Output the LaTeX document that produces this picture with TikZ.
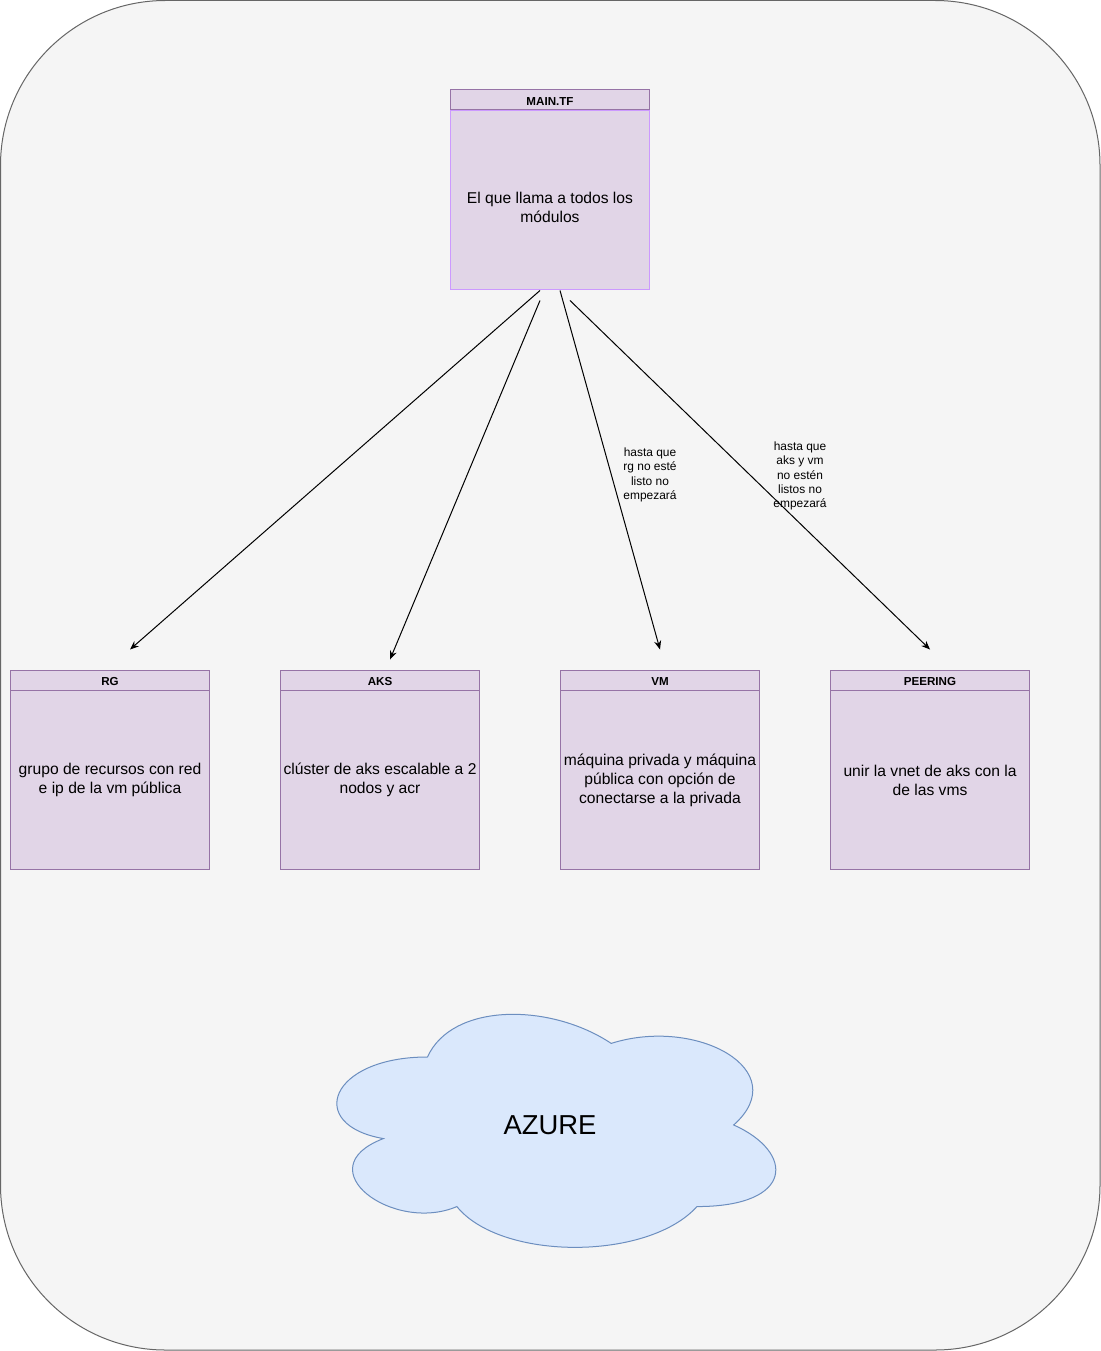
\documentclass[tikz,border=0pt]{standalone}
\usepackage{fontspec}
\setmainfont{Liberation Sans}
\usetikzlibrary{arrows.meta}

\definecolor{bgfill}{HTML}{F5F5F5}
\definecolor{bgline}{HTML}{666666}
\definecolor{modfill}{HTML}{E1D5E7}
\definecolor{modline}{HTML}{9673A6}
\definecolor{mainline}{HTML}{CC99FF}
\definecolor{cloudfill}{HTML}{DAE8FC}
\definecolor{cloudline}{HTML}{6C8EBF}

\begin{document}
\begin{tikzpicture}[x=0.02cm, y=-0.02cm, line width=0.57pt,
        head/.style={draw=modline, fill=modfill, minimum width=4cm, minimum height=0.4cm,
            inner sep=0pt, text height=6.6pt, text depth=0pt, font=\fontsize{6.6}{7.9}\selectfont\bfseries},
        body/.style={draw=modline, fill=modfill, minimum width=4cm, minimum height=3.6cm,
            inner sep=0pt, align=center, font=\fontsize{8.9}{10.8}\selectfont},
        note/.style={inner sep=0pt, align=center, font=\fontsize{6.8}{8.2}\selectfont},
        link/.style={-{Stealth[length=5pt,width=4pt]}}]
        \useasboundingbox (0,0) rectangle (1101,1351);

        % Draw the background
        \draw[bgline, fill=bgfill, rounded corners=3.3cm] (0.5,0.5) rectangle (1100,1350);

        % Main module
        \node[body, draw=mainline,
            label={[align=center, font=\fontsize{8.9}{10.8}\selectfont, yshift=-0.15cm]center:{El que llama a todos los\\m\'odulos}}]
            (main) at (550,200) {};
        \node[head] (main-head) at (550,100) {MAIN.TF};

        % Child modules
        \node[body] (rg) at (110,780) {grupo de recursos con red\\e ip de la vm p\'ublica};
        \node[head] (rg-head) at (110,680) {RG};

        \node[body] (aks) at (380,780) {cl\'uster de aks escalable a 2\\nodos y acr};
        \node[head] (aks-head) at (380,680) {AKS};

        \node[body] (vm) at (660,780) {m\'aquina privada y m\'aquina\\p\'ublica con opci\'on de\\conectarse a la privada};
        \node[head] (vm-head) at (660,680) {VM};

        \node[body] (peer) at (930,780) {unir la vnet de aks con la\\de las vms};
        \node[head] (peer-head) at (930,680) {PEERING};

        % Arrow ends
        \coordinate (m-rg) at ([xshift=-0.2cm]main.south);
        \coordinate (m-aks) at ([xshift=-0.2cm,yshift=-0.2cm]main.south);
        \coordinate (m-vm) at ([xshift=0.2cm]main.south);
        \coordinate (m-peer) at ([xshift=0.4cm,yshift=-0.2cm]main.south);
        \coordinate (rg-in) at ([xshift=0.4cm,yshift=0.4cm]rg-head.north);
        \coordinate (aks-in) at ([xshift=0.2cm,yshift=0.2cm]aks-head.north);
        \coordinate (vm-in) at ([yshift=0.4cm]vm-head.north);
        \coordinate (peer-in) at ([yshift=0.4cm]peer-head.north);

        % Draw the arrows
        \draw[link] (m-rg) -- (rg-in);
        \draw[link] (m-aks) -- (aks-in);
        \draw[link] (m-vm) -- (vm-in);
        \draw[link] (m-peer) -- (peer-in);

        % Labels
        \node[note] (vm-note) at (650,475) {hasta que\\rg no est\'e\\listo no\\empezar\'a};
        \node[note] (peer-note) at (800,476) {hasta que\\aks y vm\\no est\'en\\listos no\\empezar\'a};

        % Draw the cloud and label
        \begin{scope}[shift={(305,989)}, x=9.8cm, y=-5.44cm]
            \draw[cloudline, fill=cloudfill] (0.25,0.25)
                .. controls (0.05,0.25) and (0,0.5) .. (0.16,0.55)
                .. controls (0,0.66) and (0.18,0.9) .. (0.31,0.8)
                .. controls (0.4,1) and (0.7,1) .. (0.8,0.8)
                .. controls (1,0.8) and (1,0.6) .. (0.875,0.5)
                .. controls (1,0.3) and (0.8,0.1) .. (0.625,0.2)
                .. controls (0.5,0.05) and (0.3,0.05) .. (0.25,0.25) -- cycle;
        \end{scope}
        \node[font=\fontsize{15.6}{18.7}\selectfont] (azure) at (550,1125) {AZURE};

    \end{tikzpicture}
\end{document}
